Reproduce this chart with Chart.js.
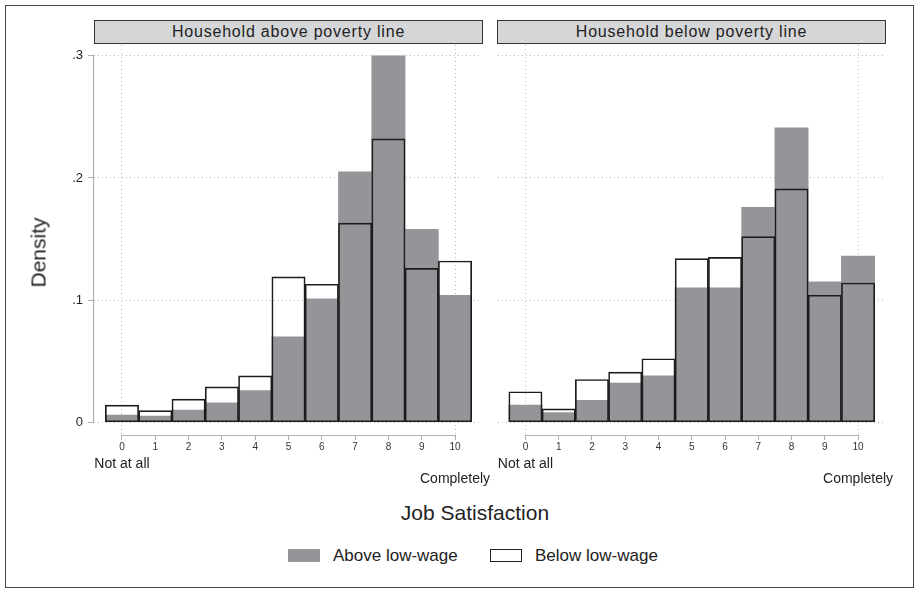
<!DOCTYPE html>
<html>
<head>
<meta charset="utf-8">
<script src="https://cdn.jsdelivr.net/npm/chart.js@4.4.1/dist/chart.umd.min.js"></script>
<style>
  body { margin: 0; background: #fff; font-family: "Liberation Sans", Arial, sans-serif; color: #222; }
  #page { position: relative; width: 916px; height: 589px; overflow: hidden; }
  .frame { position: absolute; left: 5px; top: 5px; width: 909px; height: 583px; box-sizing: border-box; border: 1px solid #444; }
  .strip { position: absolute; top: 20px; width: 389px; height: 24px; box-sizing: border-box; border: 1px solid #333;
           background: #d5d6d8; font-size: 16px; line-height: 22px; text-align: center; letter-spacing: 0.8px; }
  canvas { position: absolute; top: 0; }
  #leftPanel { left: 0; }
  #rightPanel { left: 470px; }
  .ytitle { position: absolute; left: -2px; top: 242px; width: 80px; height: 21px; font-size: 21px; line-height: 21px;
            text-align: center; transform: rotate(-90deg); }
  .xtitle { position: absolute; left: 375px; top: 502px; width: 200px; font-size: 21px; line-height: 21px; text-align: center; }
  .key { position: absolute; top: 549px; width: 32px; height: 13px; box-sizing: border-box; }
  .keytext { position: absolute; top: 547px; font-size: 17px; line-height: 17px; }
</style>
</head>
<body>
<div id="page">
  <div class="frame"></div>
  <canvas id="leftPanel" width="500" height="500"></canvas>
  <canvas id="rightPanel" width="446" height="500"></canvas>
  <div class="strip" style="left:94px">Household above poverty line</div>
  <div class="strip" style="left:497px">Household below poverty line</div>
  <div class="ytitle">Density</div>
  <div class="xtitle">Job Satisfaction</div>
  <div class="key" style="left:288px;background:#939598"></div>
  <div class="keytext" style="left:333px">Above low-wage</div>
  <div class="key" style="left:490px;border:1px solid #222;background:#fff"></div>
  <div class="keytext" style="left:535px">Below low-wage</div>
</div>

<script>
// job satisfaction scores (0-10) and axis labels
var scores = [0, 1, 2, 3, 4, 5, 6, 7, 8, 9, 10];
var xTickLabels = ['0', '1', '2', '3', '4', '5', '6', '7', '8', '9', '10'];
var endLabels = ['Not at all', 'Completely'];
var yTicks = [0, 0.1, 0.2, 0.3];
var yTickLabels = ['0', '.1', '.2', '.3'];

// densities, household above poverty line
var aboveHigh = [0.006, 0.005, 0.010, 0.016, 0.026, 0.070, 0.101, 0.205, 0.300, 0.158, 0.104];
var aboveLow  = [0.014, 0.0095, 0.019, 0.029, 0.038, 0.119, 0.113, 0.163, 0.232, 0.126, 0.132];

// densities, household below poverty line
var belowHigh = [0.014, 0.008, 0.018, 0.032, 0.038, 0.110, 0.110, 0.176, 0.241, 0.115, 0.136];
var belowLow  = [0.025, 0.011, 0.035, 0.041, 0.052, 0.134, 0.135, 0.152, 0.191, 0.104, 0.114];

var FONT = '"Liberation Sans", Arial, sans-serif';
var GRID = '#b8b8b8';
var AXIS = '#b0b0b0';

function points(vals) {
  return scores.map(function (s, i) { return { x: s, y: vals[i] }; });
}

// stata style axis lines: only as long as the labelled range
var axisLines = {
  id: 'axisLines',
  beforeDatasetsDraw: function (chart, args, opts) {
    var ctx = chart.ctx, area = chart.chartArea, sx = chart.scales.x, sy = chart.scales.y;
    ctx.save();
    ctx.strokeStyle = AXIS;
    ctx.lineWidth = 1.2;
    ctx.beginPath();
    var yb = Math.round(area.bottom) + 0.5;
    ctx.moveTo(sx.getPixelForValue(scores[0]), yb);
    ctx.lineTo(sx.getPixelForValue(scores[scores.length - 1]), yb);
    if (opts.yAxis) {
      var xl = Math.round(area.left) - 0.5;
      ctx.moveTo(xl, sy.getPixelForValue(yTicks[0]));
      ctx.lineTo(xl, sy.getPixelForValue(yTicks[yTicks.length - 1]));
    }
    ctx.stroke();
    ctx.restore();
  }
};

function makePanel(id, high, low, showY, yWidth, padRight) {
  return new Chart(document.getElementById(id), {
    type: 'bar',
    data: {
      datasets: [{
        label: 'Above low-wage',
        data: points(high),
        backgroundColor: '#939598',
        borderWidth: 0,
        order: 2
      }, {
        label: 'Below low-wage',
        data: points(low),
        backgroundColor: 'rgba(0,0,0,0)',
        borderColor: '#1c1c1c',
        borderWidth: 1,
        borderSkipped: false,
        order: 1
      }]
    },
    options: {
      responsive: false,
      animation: false,
      layout: { padding: { top: 45, right: padRight, left: 0, bottom: 0 } },
      datasets: { bar: { grouped: false, barPercentage: 1, categoryPercentage: 1 } },
      plugins: { legend: { display: false }, tooltip: { enabled: false }, axisLines: { yAxis: showY } },
      scales: {
        x: {
          type: 'linear', min: -0.84, max: 10.81, offset: false, weight: 0,
          border: { display: false, dash: [1, 3] },
          grid: {
            offset: false,
            color: function (c) { return (c.tick && (c.tick.value === 0 || c.tick.value === 10)) ? GRID : 'rgba(0,0,0,0)'; },
            tickColor: AXIS, tickLength: 5, tickWidth: 1, tickBorderDash: []
          },
          afterBuildTicks: function (s) { s.ticks = scores.map(function (v) { return { value: v }; }); },
          afterFit: function (s) { s.height = 20; },
          ticks: {
            autoSkip: false, maxRotation: 0, padding: 1, color: '#333',
            font: { family: FONT, size: 10 },
            callback: function (v, i) { return xTickLabels[i]; }
          }
        },
        x2: {
          type: 'linear', position: 'bottom', min: -0.84, max: 10.81, offset: false, weight: 1,
          border: { display: false },
          grid: { display: false, offset: false },
          afterBuildTicks: function (s) { s.ticks = [{ value: scores[0] }, { value: scores[scores.length - 1] }]; },
          afterFit: function (s) { s.height = 45; },
          ticks: {
            autoSkip: false, maxRotation: 0, padding: -6.5, color: '#222',
            font: { family: FONT, size: 14, lineHeight: 1.07 },
            callback: function (v, i) { return i === 0 ? endLabels[0] : ['', endLabels[1]]; }
          }
        },
        y: {
          min: -0.0104, max: 0.3088,
          border: { display: false, dash: [1, 3] },
          grid: { color: GRID, drawTicks: showY, tickColor: AXIS, tickLength: 6, tickWidth: 1, tickBorderDash: [] },
          afterBuildTicks: function (s) { s.ticks = yTicks.map(function (v) { return { value: v }; }); },
          afterFit: function (s) { s.width = yWidth; },
          ticks: {
            display: showY, padding: 5, color: '#222',
            font: { family: FONT, size: 13 },
            callback: function (v, i) { return yTickLabels[i]; }
          }
        }
      }
    },
    plugins: [axisLines]
  });
}

makePanel('leftPanel', aboveHigh, aboveLow, true, 94, 18);
makePanel('rightPanel', belowHigh, belowLow, false, 27.5, 31);
</script>
</body>
</html>
